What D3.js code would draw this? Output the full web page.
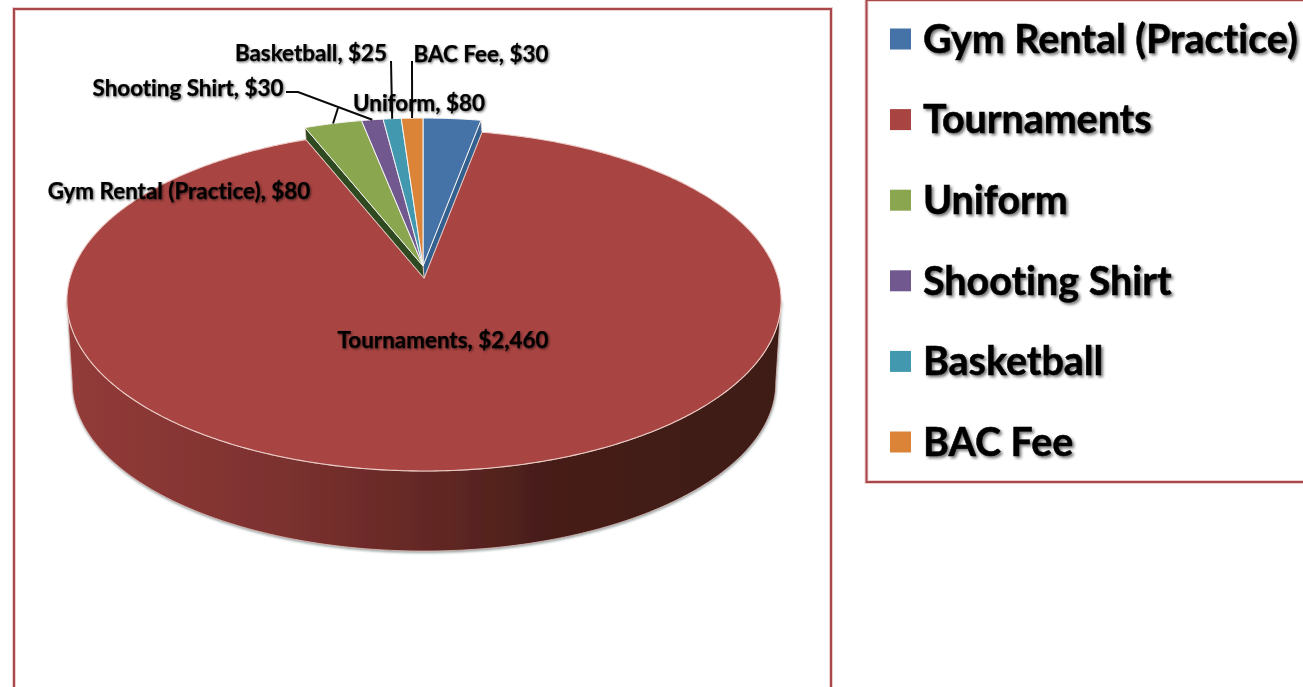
<!DOCTYPE html>
<html>
<head>
<meta charset="utf-8">
<script src="https://cdn.jsdelivr.net/npm/d3@7"></script>
<style>
    html, body { margin: 0; padding: 0; background: #fff; overflow: hidden; }
    svg { filter: blur(0.45px); }
    text { font-family: Lato, "Open Sans", sans-serif; font-weight: 700; fill: #050505; stroke: #050505; font-variant-ligatures: none; }
    .slice-label { font-size: 22.4px; stroke-width: 0.25px; filter: url(#labelShadow); }
    .legend-label { font-size: 39.4px; stroke-width: 0.5px; filter: url(#legendShadow); }
</style>
</head>
<body>
<div id="chart"></div>
<script>
const categories = ["Gym Rental (Practice)", "Tournaments", "Uniform", "Shooting Shirt", "Basketball", "BAC Fee"];
const amounts = [80, 2460, 80, 30, 25, 30];
const topColors = ["#4573a7", "#a84442", "#8aa64f", "#71598f", "#4198af", "#db8438"];
const wallColors = ["#33618f", "#7f3331", "#2f4a20", "#54406c", "#2f7386", "#a8622a"];

// side wall shading, left to right
const wallStops = [
    { offset: 0, color: "#933b39" },
    { offset: 0.3, color: "#7c312f" },
    { offset: 0.5, color: "#642825" },
    { offset: 0.68, color: "#461d19" },
    { offset: 1, color: "#3e1a16" }
];

// label anchors, same order as the categories
const labelX = [179, 443, 419, 188, 311, 481];
const labelY = [191, 340, 103, 88, 53, 54];

const width = 1303;
const height = 687;

// perspective of the pie top
const centerX = 424;
const centerY = 278;
const radiusX = 354;
const radiusY = 167.5;
const tilt = 0.132;
const wallDepth = 83;
const bottomScale = 0.985;
const explode = 12;

function project(angle, cx, cy, scale = 1) {
    const w = 1 + tilt * Math.cos(angle);
    return [
        cx + radiusX * scale * Math.sin(angle) / w,
        cy - radiusY * scale * Math.cos(angle) / w
    ];
}

function arcPoints(a0, a1, cx, cy, scale) {
    const steps = Math.max(2, Math.ceil(Math.abs(a1 - a0) / 0.01));
    return d3.range(steps + 1).map(i => project(a0 + (a1 - a0) * i / steps, cx, cy, scale));
}

const line = d3.line();

const svg = d3.select("#chart")
    .append("svg")
    .attr("width", width)
    .attr("height", height)
    .style("display", "block");

const defs = svg.append("defs");

const wallGradient = defs.append("linearGradient")
    .attr("id", "wallGradient")
    .attr("gradientUnits", "userSpaceOnUse")
    .attr("x1", 68)
    .attr("x2", 782)
    .attr("y1", 0)
    .attr("y2", 0);

wallGradient.selectAll("stop")
    .data(wallStops)
    .enter().append("stop")
    .attr("offset", d => d.offset)
    .attr("stop-color", d => d.color);

function addShadow(id, dx, blur, opacity) {
    const f = defs.append("filter")
        .attr("id", id)
        .attr("x", "-10%")
        .attr("y", "-30%")
        .attr("width", "120%")
        .attr("height", "160%");
    f.append("feDropShadow")
        .attr("dx", dx)
        .attr("dy", dx)
        .attr("stdDeviation", blur)
        .attr("flood-color", "#000")
        .attr("flood-opacity", opacity);
}
addShadow("labelShadow", 1.2, 1, 0.55);
addShadow("legendShadow", 2, 1.6, 0.55);

defs.append("filter")
    .attr("id", "wallShadow")
    .attr("x", "-5%")
    .attr("y", "-5%")
    .attr("width", "110%")
    .attr("height", "115%")
    .append("feDropShadow")
    .attr("dx", 0.5)
    .attr("dy", 1.5)
    .attr("stdDeviation", 1.2)
    .attr("flood-color", "#7f8a8a")
    .attr("flood-opacity", 0.8);

// chart and legend frames
const frames = [
    { x: 14, y: 9, w: 817, h: 720 },
    { x: 866.5, y: 0, w: 480, h: 482 }
];
[["#eccfcf", 4], ["#a8484a", 2]].forEach(([stroke, sw]) => {
    svg.append("g").selectAll("rect")
        .data(frames)
        .enter().append("rect")
        .attr("x", d => d.x)
        .attr("y", d => d.y)
        .attr("width", d => d.w)
        .attr("height", d => d.h)
        .attr("fill", "none")
        .attr("stroke", stroke)
        .attr("stroke-width", sw);
});

const pie = d3.pie()
    .sort(null)
    .startAngle(0)
    .endAngle(2 * Math.PI);

const slices = pie(amounts);
const big = slices[1];
const small = slices.filter(d => d.index !== 1);

// outer wall of the big slice, silhouette to silhouette
const wallStart = Math.acos(-tilt);
const wallEnd = 2 * Math.PI - wallStart;
const wallTop = arcPoints(wallStart, wallEnd, centerX, centerY);
const wallBottom = arcPoints(wallEnd, wallStart, centerX, centerY + wallDepth, bottomScale);

svg.append("path")
    .attr("d", line(wallTop.concat(wallBottom)) + "Z")
    .attr("fill", "url(#wallGradient)")
    .attr("stroke", "#dcc0ba")
    .attr("stroke-width", 0.8)
    .attr("filter", "url(#wallShadow)");

// top of the big slice
svg.append("path")
    .attr("d", line([[centerX, centerY]].concat(arcPoints(big.startAngle, big.endAngle, centerX, centerY))) + "Z")
    .attr("fill", topColors[1])
    .attr("stroke", "#eccdc8")
    .attr("stroke-width", 1.1);

// the pulled out slices stand up a little, only their outer cut walls show
const smallY = centerY - explode;
const cutWalls = [
    { index: 0, angle: slices[0].endAngle },
    { index: 2, angle: slices[2].startAngle }
];

svg.append("g").selectAll("path")
    .data(cutWalls)
    .enter().append("path")
    .attr("d", d => line([
        [centerX - 1, smallY],
        project(d.angle, centerX - 1, smallY),
        project(d.angle, centerX, centerY),
        [centerX, centerY]
    ]) + "Z")
    .attr("fill", d => wallColors[d.index])
    .attr("stroke", "#eccdc8")
    .attr("stroke-width", 0.8);

svg.append("g").selectAll("path")
    .data(small)
    .enter().append("path")
    .attr("d", d => line([[centerX - 1, smallY]].concat(arcPoints(d.startAngle, d.endAngle, centerX - 1, smallY))) + "Z")
    .attr("fill", d => topColors[d.index])
    .attr("stroke", "#f4f4f4")
    .attr("stroke-width", 1);

// leader lines, ending on the outer edge of their slice
function midEdge(i) {
    return project((slices[i].startAngle + slices[i].endAngle) / 2, centerX - 1, smallY);
}
const leaders = svg.append("g")
    .attr("fill", "none")
    .attr("stroke", "#0a0a0a")
    .attr("stroke-width", 2);

leaders.append("path").attr("d", line([[286, 92], [298, 92], midEdge(3)]));
leaders.append("path").attr("d", line([[338, 108], midEdge(2)]));
leaders.append("path").attr("d", line([[391, 61], midEdge(4)]));
leaders.append("path").attr("d", line([[412, 61], midEdge(5)]));

// data labels
svg.append("g").selectAll("text")
    .data(categories)
    .enter().append("text")
    .attr("class", "slice-label")
    .attr("x", (d, i) => labelX[i])
    .attr("y", (d, i) => labelY[i])
    .attr("dy", "0.35em")
    .attr("text-anchor", "middle")
    .text((d, i) => `${d}, $${d3.format(",")(amounts[i])}`);

// legend
const legendY = d3.scalePoint()
    .domain(categories)
    .range([39, 442]);

const legendItems = svg.append("g").selectAll("g")
    .data(categories)
    .enter().append("g")
    .attr("transform", d => `translate(890, ${legendY(d)})`);

legendItems.append("rect")
    .attr("y", -10.5)
    .attr("width", 21)
    .attr("height", 21)
    .attr("fill", (d, i) => topColors[i]);

legendItems.append("text")
    .attr("class", "legend-label")
    .attr("x", 33)
    .attr("dy", "0.35em")
    .text(d => d);
</script>
</body>
</html>
